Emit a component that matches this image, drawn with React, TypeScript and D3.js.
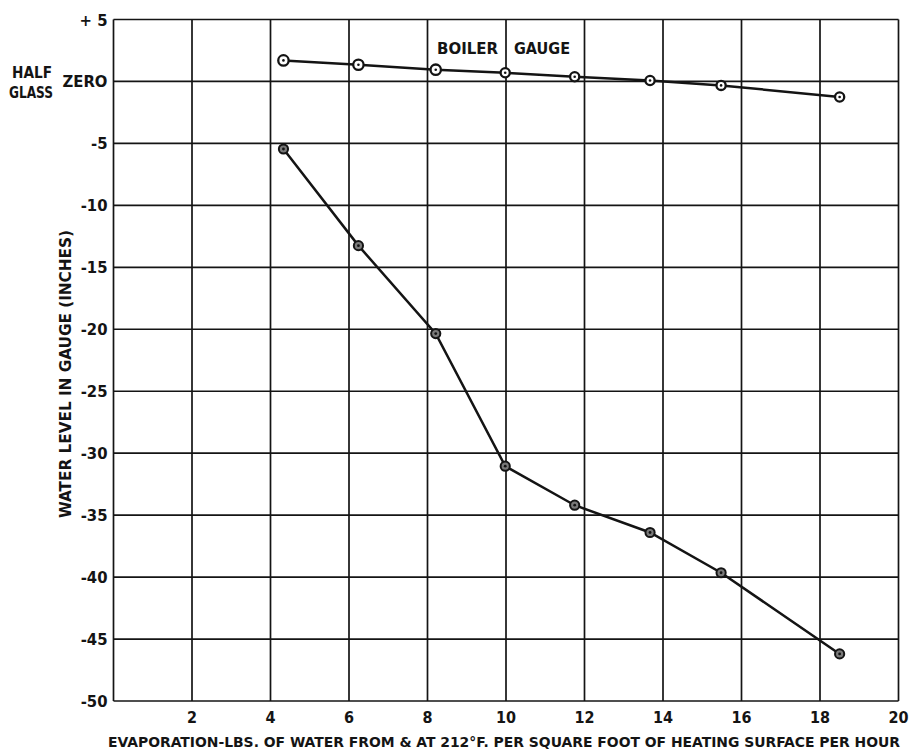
import React from "react";
import * as d3 from "d3";

const evaporation = [4.33, 6.24, 8.21, 9.98, 11.75, 13.67, 15.48, 18.5];
const boilerGauge = [1.7, 1.35, 0.95, 0.7, 0.38, 0.08, -0.32, -1.25];
const waterColumn = [-5.45, -13.25, -20.35, -31.05, -34.2, -36.4, -39.65, -46.2];
const xTicks = [2, 4, 6, 8, 10, 12, 14, 16, 18, 20];
const xGrid = [0, 2, 4, 6, 8, 10, 12, 14, 16, 18, 20];
const yTicks = [5, 0, -5, -10, -15, -20, -25, -30, -35, -40, -45, -50];
const yTickLabels = ["+ 5", "ZERO", "-5", "-10", "-15", "-20", "-25", "-30", "-35", "-40", "-45", "-50"];
const xTitle = "EVAPORATION-LBS. OF WATER FROM & AT 212°F. PER SQUARE FOOT OF HEATING SURFACE PER HOUR";
const yTitle = "WATER LEVEL IN GAUGE (INCHES)";
const seriesLabel = "BOILER GAUGE";

const W = 911;
const H = 750;
const FONT = "'DejaVu Sans Condensed', 'DejaVu Sans', sans-serif";
const INK = "#141414";

export default function App() {
  const x = d3.scaleLinear().domain([0, 20]).range([113.5, 898.5]);
  const y = d3.scaleLinear().domain([5, -50]).range([19.5, 701]);
  const line = d3
    .line<number>()
    .x((_, i) => x(evaporation[i]))
    .y((d) => y(d));
  const [labelA, labelB] = seriesLabel.split(" ");

  return (
    <svg
      width={W}
      height={H}
      style={{ position: "absolute", left: 0, top: 0, background: "#ffffff" }}
    >
      <rect x={0} y={0} width={W} height={H} fill="#ffffff" />
      {/* grid */}
      <g stroke={INK} strokeWidth={1.7}>
        {xGrid.map((v) => (
          <line key={"vx" + v} x1={x(v)} x2={x(v)} y1={y(5)} y2={y(-50)} />
        ))}
        {yTicks.map((v) => (
          <line key={"hy" + v} x1={x(0)} x2={x(20)} y1={y(v)} y2={y(v)} />
        ))}
      </g>
      {/* y tick labels */}
      <g fontFamily={FONT} fontWeight="bold" fontSize={16.5} fill={INK} textAnchor="end">
        {yTicks.map((v, i) => (
          <text key={"yt" + v} x={x(0) - 6} y={y(v) + 6}>
            {yTickLabels[i]}
          </text>
        ))}
      </g>
      <g fontFamily={FONT} fontWeight="bold" fontSize={15} fill={INK}>
        <text x={12} y={78} textLength={40} lengthAdjust="spacingAndGlyphs">HALF</text>
        <text x={9} y={98} textLength={44} lengthAdjust="spacingAndGlyphs">GLASS</text>
      </g>
      {/* x tick labels */}
      <g fontFamily={FONT} fontWeight="bold" fontSize={16} fill={INK} textAnchor="middle">
        {xTicks.map((v) => (
          <text key={"xt" + v} x={x(v)} y={723}>
            {v}
          </text>
        ))}
      </g>
      {/* axis titles */}
      <text
        x={108}
        y={747}
        fontFamily={FONT}
        fontWeight="bold"
        fontSize={14}
        fill={INK}
        textLength={792}
        lengthAdjust="spacingAndGlyphs"
      >
        {xTitle}
      </text>
      <text
        transform={`translate(71, 518) rotate(-90)`}
        x={0}
        y={0}
        fontFamily={FONT}
        fontWeight="bold"
        fontSize={15}
        fill={INK}
        textLength={288}
        lengthAdjust="spacingAndGlyphs"
      >
        {yTitle}
      </text>
      {/* series label */}
      <g fontFamily={FONT} fontWeight="bold" fontSize={15} fill={INK}>
        <text x={437} y={54} textLength={61} lengthAdjust="spacingAndGlyphs">
          {labelA}
        </text>
        <text x={514} y={54} textLength={56} lengthAdjust="spacingAndGlyphs">
          {labelB}
        </text>
      </g>
      {/* lines */}
      <path d={line(boilerGauge) || ""} fill="none" stroke={INK} strokeWidth={2.5} />
      <path d={line(waterColumn) || ""} fill="none" stroke={INK} strokeWidth={2.5} />
      {/* markers */}
      {boilerGauge.map((v, i) => (
        <g key={"bm" + i}>
          <circle
            cx={x(evaporation[i])}
            cy={y(v)}
            r={i < 3 ? 5.2 : 4.6}
            fill="#ffffff"
            stroke={INK}
            strokeWidth={2.3}
          />
          <circle cx={x(evaporation[i])} cy={y(v)} r={1.3} fill={INK} />
        </g>
      ))}
      {waterColumn.map((v, i) => (
        <g key={"wm" + i}>
          <circle
            cx={x(evaporation[i])}
            cy={y(v)}
            r={4.6}
            fill="#7a7a7a"
            stroke={INK}
            strokeWidth={2}
          />
          <circle cx={x(evaporation[i])} cy={y(v)} r={1.4} fill={INK} />
        </g>
      ))}
    </svg>
  );
}
